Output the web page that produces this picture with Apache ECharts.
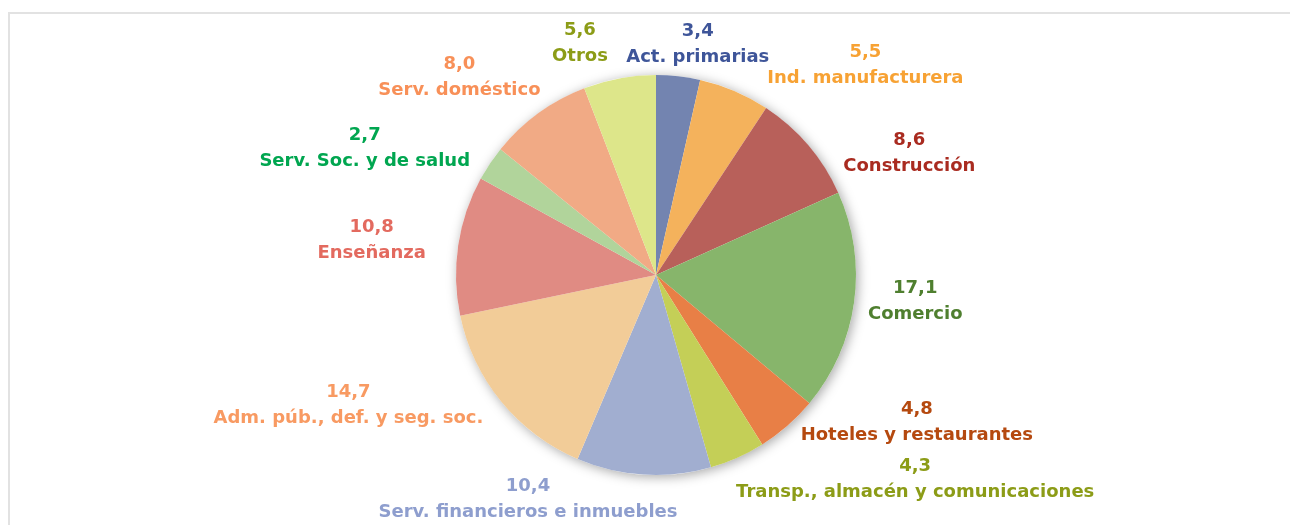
<!DOCTYPE html>
<html>
<head>
<meta charset="utf-8">
<script src="https://cdn.jsdelivr.net/npm/echarts@6/dist/echarts.min.js"></script>
<style>
  html, body { margin: 0; padding: 0; background: #ffffff; }
  #wrap { position: relative; width: 1290px; height: 525px; overflow: hidden; }
  #frame { position: absolute; left: 8px; top: 12px; width: 1300px; height: 600px;
           border-top: 2px solid #e2e2e2; border-left: 2px solid #e2e2e2; box-sizing: border-box; }
  #chart { position: absolute; left: 0; top: 0; width: 1290px; height: 525px; }
</style>
</head>
<body>
<div id="wrap">
  <div id="frame"></div>
  <div id="chart"></div>
</div>
<script>
// ---- data ----
const categories = [
  'Act. primarias', 'Ind. manufacturera', 'Construcción', 'Comercio',
  'Hoteles y restaurantes', 'Transp., almacén y comunicaciones',
  'Serv. financieros e inmuebles', 'Adm. púb., def. y seg. soc.',
  'Enseñanza', 'Serv. Soc. y de salud', 'Serv. doméstico', 'Otros'
];
const values = [3.4, 5.5, 8.6, 17.1, 4.8, 4.3, 10.4, 14.7, 10.8, 2.7, 8.0, 5.6];

// ---- styles ----
const sliceColors = ['#7384b0', '#f4b25c', '#b8605a', '#87b56b', '#e87f46', '#c4cf57',
                     '#a1aed0', '#f2cc98', '#e08b83', '#b1d49b', '#f1aa85', '#dde68a'];
const labelColors = ['#3e5599', '#f7a234', '#a92b20', '#4f7f2f', '#b5490f', '#8c9c17',
                     '#8e9ece', '#f89a62', '#e36a5f', '#00a650', '#f89058', '#8c9c17'];
// label offsets (radial length, horizontal length2) used by the pie's own label layout
const labelLen  = [32, 28, -13, -8, -4, 24, 25, 5, 36, 28, 44, 36];
const labelLen2 = [11, 115, 106, 64, 127, 163, 109, 144, 46, 97, 48, 28];

const fmt = v => v.toFixed(1).replace('.', ',');
const total = values.reduce((a, b) => a + b, 0);

const chart = echarts.init(document.getElementById('chart'), null, { renderer: 'canvas' });

const pieData = categories.map((name, i) => ({
  name: name,
  value: values[i],
  itemStyle: { color: sliceColors[i] },
  label: { color: labelColors[i] },
  labelLine: { length: labelLen[i], length2: labelLen2[i] }
}));

chart.setOption({
  backgroundColor: 'transparent',
  animation: false,
  series: [
    {
      type: 'pie',
      silent: true,
      center: [656, 275],
      radius: 200,
      z: 1,
      label: { show: false },
      labelLine: { show: false },
      itemStyle: {
        color: '#ffffff',
        shadowBlur: 12,
        shadowColor: 'rgba(0,0,0,0.35)',
        shadowOffsetX: 2,
        shadowOffsetY: 2
      },
      data: [{ value: total, name: 'total' }]
    },
    {
      type: 'pie',
      center: [656, 275],
      radius: 200,
      startAngle: 90,
      clockwise: true,
      z: 2,
      avoidLabelOverlap: false,
      itemStyle: { borderWidth: 0 },
      label: {
        show: true,
        position: 'outside',
        fontFamily: 'DejaVu Sans',
        fontWeight: 'bold',
        fontSize: 18,
        lineHeight: 26,
        distanceToLabelLine: 5,
        formatter: p => fmt(p.value) + '\n' + p.name
      },
      labelLine: { show: false },
      labelLayout: { align: 'center', verticalAlign: 'middle', hideOverlap: false, moveOverlap: null },
      data: pieData
    }
  ]
});
</script>
</body>
</html>
